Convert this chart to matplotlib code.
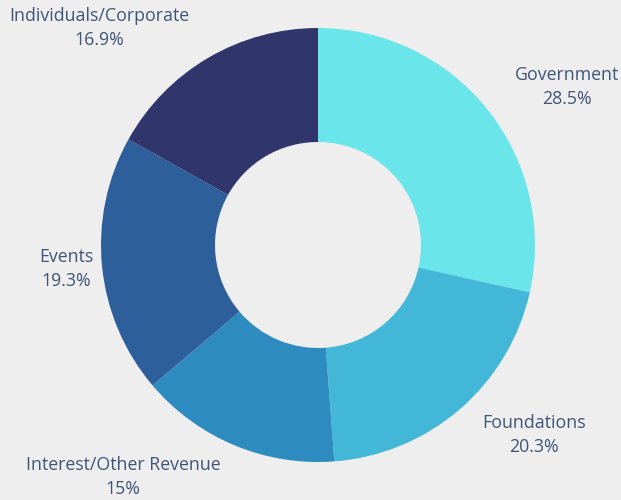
import matplotlib.pyplot as plt

# --------- data ---------
labels = ["Government", "Foundations", "Interest/Other Revenue", "Events", "Individuals/Corporate"]
values = [28.5, 20.3, 15, 19.3, 16.9]
value_text = ["28.5%", "20.3%", "15%", "19.3%", "16.9%"]
colors = ["#6ae5e9", "#42b7d7", "#2e8bbf", "#2d5f9b", "#30356b"]

# label anchors (pixel coords, origin bottom-left)
label_pos = [(567, 413), (534, 65), (123, 23), (66, 231), (99, 472)]

bg = "#eeeeee"
txt_color = "#3f5577"

fig = plt.figure(figsize=(6.21, 5.0), dpi=100)
fig.patch.set_facecolor(bg)
ax = fig.add_axes([0, 0, 1, 1])
ax.set_facecolor(bg)

radius = 217
ax.pie(values, colors=colors, startangle=90, counterclock=False,
       center=(318, 255), radius=radius, frame=True,
       wedgeprops=dict(width=radius - 103, linewidth=0))
ax.set_xlim(0, 621)
ax.set_ylim(0, 500)
ax.set_aspect("equal")
ax.axis("off")

for name, vt, (x, y) in zip(labels, value_text, label_pos):
    ax.text(x, y, f"{name}\n{vt}", ha="center", va="center", fontsize=12.8,
            color=txt_color, family=["Open Sans", "DejaVu Sans"], linespacing=1.45)

fig.savefig("out.png", dpi=100, facecolor=bg)
